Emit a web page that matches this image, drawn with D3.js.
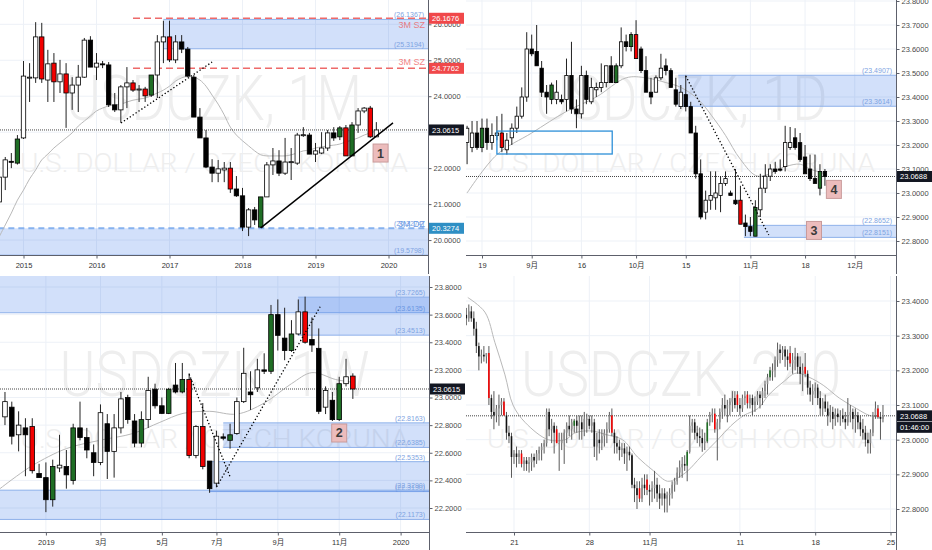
<!DOCTYPE html>
<html><head><meta charset="utf-8">
<script src="https://cdn.jsdelivr.net/npm/d3@7"></script>
<style>
html,body{margin:0;padding:0;background:#fff;}
svg{display:block;}
text{font-family:"Liberation Sans",Arial,"Noto Sans CJK SC",sans-serif;}
</style></head><body>
<svg id="chart" width="932" height="550"></svg>
<script>
// ================= DATA =================
// Monthly USDCZK (index 0 = Sep 2014) [open, high, low, close]
const monthlyStart = 0;
const monthlyOHLC = [
[21.06,21.95,20.95,21.75],[21.75,22.31,21.39,22.23],[22.19,22.42,22.00,22.17],[22.14,22.92,22.10,22.81],
[22.84,24.98,22.81,24.56],[24.51,24.92,23.84,24.53],[24.51,26.06,24.37,25.65],[25.65,26.04,24.37,24.48],
[24.45,25.29,23.84,24.90],[24.92,25.20,23.84,24.40],[24.40,25.01,24.09,24.62],[24.62,24.92,23.12,24.09],
[24.09,24.53,23.62,24.31],[24.31,24.87,23.56,24.53],[24.53,25.62,24.51,25.56],[25.56,25.67,24.81,24.81],
[24.81,25.20,24.45,24.92],[24.90,24.98,24.78,24.89],[24.87,24.95,23.70,23.76],[23.76,24.09,23.56,23.62],
[23.62,24.31,23.26,24.26],[24.26,24.81,23.67,24.37],[24.37,24.45,24.12,24.17],[24.19,24.31,23.84,24.20],
[24.20,24.26,23.84,24.01],[24.03,24.59,23.98,24.59],[24.59,25.70,23.95,25.51],[25.51,26.10,24.92,25.65],
[25.65,26.10,24.95,25.01],[25.01,25.70,24.92,25.51],[25.51,25.70,25.20,25.31],[25.31,25.37,24.53,24.56],
[24.53,24.59,23.42,23.42],[23.42,23.67,22.84,22.84],[22.84,23.06,22.00,22.03],[22.03,22.25,21.61,21.86],
[21.86,22.23,21.61,21.98],[21.95,22.17,21.61,22.00],[22.00,22.17,21.31,21.42],[21.42,21.78,21.20,21.23],
[21.23,21.45,20.25,20.36],[20.36,20.89,20.11,20.84],[20.84,20.92,20.42,20.56],[20.36,21.20,20.34,21.20],
[21.20,22.17,21.20,22.09],[22.09,22.56,21.81,22.20],[22.20,22.50,21.78,21.86],[21.86,22.84,21.81,22.17],
[22.16,22.56,21.67,22.18],[22.14,22.98,22.09,22.92],[22.92,23.14,22.87,22.93],[22.92,22.98,22.39,22.39],
[22.39,22.70,22.17,22.48],[22.42,23.00,22.39,22.56],[22.56,23.06,22.48,22.98],[22.98,23.14,22.76,22.84],
[22.87,23.17,22.78,23.12],[23.12,23.20,22.34,22.34],[22.34,23.28,22.34,23.20],[23.20,23.67,22.98,23.59],
[23.59,23.70,23.53,23.67],[23.67,23.73,22.84,22.87],[22.87,23.28,22.87,23.0615]
];
const monthlyRed = [7,9,11,22,24,28,38,57,61];
const monthlyGreen = [3,25,43,56,58];
const monthlyMA = [[0,20.09],[1,20.42],[2,20.75],[3,21.11],[4,21.39],[5,21.70],[6,21.95],[7,22.23],[8,22.39],[9,22.56],
[10,22.70],[11,22.84],[12,22.98],[13,23.17],[14,23.31],[15,23.45],[16,23.59],[17,23.67],[18,23.73],[19,23.76],[20,23.78],
[21,23.84],[22,23.89],[23,23.92],[24,23.95],[25,24.01],[26,24.09],[27,24.17],[28,24.28],[29,24.42],[30,24.51],[31,24.56],
[32,24.53],[33,24.45],[34,24.28],[35,24.03],[36,23.78],[37,23.48],[38,23.14],[39,22.92],[40,22.76],[41,22.62],[42,22.48],
[43,22.37],[44,22.34],[45,22.34],[46,22.34],[47,22.34],[48,22.37],[49,22.42],[50,22.48],[51,22.50],[52,22.56],[53,22.59],
[54,22.62],[55,22.64],[56,22.67],[57,22.73],[58,22.78],[59,22.84],[60,22.92],[61,22.98],[62,23.03]];
const monthlyTimeTicks = [[4,'2015'],[16,'2016'],[28,'2017'],[40,'2018'],[52,'2019'],[64,'2020']];
const monthlyPriceTicks = [20,21,22,23,24,25,26];

// Daily (index 0 = 19 Aug 2019)
const dailyStart = -3;
const dailyOHLC = [
[23.21,23.28,23.12,23.27],[23.19,23.30,23.17,23.25],[23.25,23.30,23.18,23.19],[23.19,23.31,23.17,23.27],
[23.27,23.31,23.18,23.21],[23.21,23.29,23.18,23.24],[23.24,23.32,23.22,23.25],[23.25,23.33,23.17,23.19],
[23.18,23.25,23.16,23.22],[23.23,23.29,23.20,23.27],[23.27,23.36,23.25,23.32],[23.32,23.44,23.31,23.40],
[23.40,23.67,23.38,23.60],[23.60,23.66,23.57,23.58],[23.59,23.70,23.53,23.53],[23.52,23.55,23.40,23.42],
[23.42,23.45,23.33,23.40],[23.39,23.46,23.37,23.45],[23.39,23.47,23.37,23.42],[23.39,23.41,23.37,23.38],
[23.39,23.56,23.34,23.49],[23.49,23.63,23.33,23.35],[23.35,23.39,23.27,23.33],[23.33,23.53,23.31,23.49],
[23.49,23.51,23.37,23.39],[23.38,23.48,23.37,23.44],[23.43,23.46,23.40,23.44],[23.44,23.54,23.42,23.46],
[23.46,23.53,23.44,23.53],[23.53,23.57,23.46,23.46],[23.46,23.54,23.46,23.53],[23.53,23.69,23.52,23.63],
[23.63,23.66,23.59,23.61],[23.61,23.67,23.59,23.66],[23.66,23.72,23.56,23.56],[23.60,23.61,23.50,23.51],
[23.51,23.57,23.42,23.42],[23.42,23.48,23.37,23.40],[23.42,23.49,23.42,23.48],[23.48,23.58,23.47,23.52],
[23.53,23.56,23.49,23.51],[23.51,23.52,23.44,23.44],[23.43,23.48,23.36,23.37],[23.36,23.45,23.35,23.42],
[23.41,23.49,23.34,23.36],[23.36,23.38,23.25,23.25],[23.25,23.28,23.06,23.08],[23.08,23.14,22.89,22.90],
[22.92,23.01,22.89,22.97],[22.97,23.09,22.93,22.99],[22.98,23.09,22.93,23.00],[22.99,23.07,22.92,23.04],
[23.04,23.09,23.03,23.06],[23.00,23.01,22.99,22.99],[22.97,23.10,22.95,22.955],[22.97,23.03,22.87,22.87],
[22.875,22.91,22.82,22.86],[22.86,22.90,22.82,22.84],[22.82,22.97,22.82,22.94],[22.93,23.08,22.90,23.02],
[23.02,23.12,23.00,23.07],[23.07,23.12,23.05,23.10],[23.10,23.13,23.08,23.09],[23.10,23.14,23.09,23.095],
[23.11,23.28,23.09,23.21],[23.19,23.275,23.18,23.21],[23.23,23.27,23.18,23.19],[23.21,23.25,23.13,23.14],
[23.15,23.20,23.09,23.08],[23.10,23.16,23.05,23.06],[23.06,23.16,23.04,23.04],[23.02,23.12,22.99,23.09],
[23.09,23.10,23.03,23.0688]
];
const dailyRed = [4,31,52];
const dailyGreen = [0,14,27,30,55,68];
const dailyMA = [[-3,23.0],[3,23.16],[10,23.25],[17,23.34],[23,23.40],[29,23.48],[33,23.48],[37,23.46],[40,23.44],
[43.5,23.39],[47,23.30],[49,23.24],[52,23.14],[55.5,23.07],[61,23.11],[64,23.12],[66,23.10],[69,23.08]];
const dailyTimeTicks = [[0,'19'],[10,'9月'],[20,'16'],[31,'10月'],[41,'15'],[54,'11月'],[65,'18'],[75,'12月']];
const dailyPriceTicks = [22.8,22.9,23.0,23.1,23.2,23.3,23.4,23.5,23.6,23.7,23.8];

// Weekly (index 0 = week of 26 Nov 2018)
const weeklyStart = 0;
const weeklyOHLC = [
[22.86,23.04,22.80,22.97],[22.93,22.97,22.66,22.72],[22.73,22.90,22.61,22.80],[22.78,22.85,22.43,22.73],
[22.79,22.85,22.45,22.47],[22.45,22.52,22.42,22.42],[22.42,22.53,22.17,22.26],[22.26,22.55,22.21,22.50],
[22.49,22.73,22.46,22.51],[22.50,22.62,22.34,22.44],[22.40,22.81,22.37,22.78],[22.78,22.97,22.69,22.71],
[22.71,22.78,22.56,22.62],[22.60,22.66,22.43,22.53],[22.53,22.95,22.51,22.89],[22.81,22.88,22.41,22.61],
[22.61,22.88,22.42,22.78],[22.78,23.04,22.74,22.99],[23.00,23.02,22.81,22.84],[22.83,22.88,22.64,22.67],
[22.67,22.90,22.64,22.84],[22.84,23.15,22.78,23.05],[23.06,23.10,22.92,22.94],[22.94,23.00,22.88,22.885],
[22.885,23.07,22.88,23.06],[23.09,23.25,23.03,23.04],[23.04,23.25,23.03,23.13],[23.13,23.175,22.56,22.58],
[22.58,22.80,22.56,22.79],[22.79,22.96,22.48,22.50],[22.54,22.54,22.31,22.34],[22.38,22.76,22.35,22.72],
[22.715,22.74,22.69,22.705],[22.69,22.81,22.63,22.73],[22.74,23.00,22.73,22.97],[22.97,23.36,22.96,23.175],
[23.04,23.19,22.91,23.02],[23.07,23.28,23.04,23.20],[23.20,23.32,23.17,23.19],[23.19,23.67,23.17,23.60],
[23.60,23.71,23.34,23.45],[23.43,23.65,23.27,23.34],[23.34,23.56,23.33,23.46],[23.46,23.71,23.45,23.62],
[23.62,23.73,23.39,23.40],[23.42,23.58,23.33,23.38],[23.356,23.50,22.88,22.90],[22.93,23.08,22.88,23.05],
[22.98,23.04,22.83,22.84],[22.84,23.15,22.83,23.10],[23.10,23.28,23.08,23.15],[23.155,23.175,22.99,23.0615]
];
const weeklyRed = [4,27,29,44,51];
const weeklyGreen = [7,10,20,24,26,33,39,42,49];
const weeklyMA = [[-1,22.33],[1.7,22.43],[4.1,22.51],[9,22.63],[13.9,22.69],[18.8,22.74],[22.7,22.82],[26.1,22.885],
[30,22.90],[34,22.88],[38,22.96],[42,23.10],[45,23.18],[48.5,23.13],[51,23.11]];
const weeklyTimeTicks = [[6,'2019'],[14,'3月'],[23,'5月'],[31,'7月'],[40,'9月'],[49,'11月'],[58,'2020']];
const weeklyPriceTicks = [22.2,22.4,22.6,22.8,23.0,23.2,23.4,23.6,23.8];

// 4-hour (index 0 = first bar of 21 Oct 2019)
const h4Start = -19;
const h4OHLC = [
[23.36,23.38,23.33,23.35],[23.35,23.39,23.34,23.37],[23.37,23.385,23.34,23.35],[23.35,23.37,23.30,23.32],
[23.32,23.34,23.25,23.27],[23.27,23.28,23.20,23.24],[23.24,23.26,23.22,23.245],[23.245,23.27,23.225,23.24],
[23.24,23.25,23.22,23.25],[23.25,23.27,23.10,23.12],[23.12,23.13,23.06,23.08],[23.08,23.14,23.03,23.07],
[23.07,23.10,23.05,23.09],[23.09,23.13,23.04,23.10],[23.10,23.12,23.07,23.11],[23.11,23.12,23.07,23.07],
[23.07,23.08,23.00,23.02],[23.02,23.04,22.99,23.01],[23.01,23.02,22.89,22.95],
[22.95,22.97,22.93,22.96],[22.96,22.98,22.92,22.95],[22.95,22.97,22.93,22.96],[22.96,22.97,22.92,22.93],
[22.93,22.95,22.91,22.94],[22.94,22.95,22.91,22.93],[22.93,22.95,22.905,22.935],[22.935,22.96,22.91,22.95],
[22.95,22.96,22.92,22.94],[22.94,22.97,22.93,22.96],[22.96,22.98,22.94,22.97],[22.97,22.99,22.94,22.98],
[22.98,23.00,22.96,22.99],[22.99,23.09,22.98,23.08],[23.08,23.09,23.01,23.03],[23.03,23.06,22.99,23.04],
[23.04,23.05,22.96,23.02],[23.03,23.04,22.99,22.99],[22.99,23.02,22.91,22.99],[22.99,23.02,22.97,23.00],
[23.00,23.03,22.93,23.02],[23.02,23.05,22.99,23.04],[23.04,23.07,23.01,23.03],[23.03,23.06,23.00,23.05],
[23.04,23.06,23.02,23.055],[23.055,23.07,23.02,23.04],[23.04,23.07,23.00,23.05],[23.05,23.07,23.00,23.03],
[23.03,23.08,23.01,23.06],[23.06,23.075,23.02,23.06],[23.06,23.07,23.03,23.04],[23.04,23.07,23.02,23.05],
[23.05,23.06,22.95,22.98],[22.98,23.02,22.94,23.00],[23.00,23.03,22.96,22.99],[22.99,23.03,22.97,23.01],
[23.01,23.03,22.98,23.02],[23.02,23.05,22.99,23.03],[23.03,23.08,23.02,23.07],[23.07,23.09,23.01,23.02],
[23.02,23.03,22.96,22.99],[22.99,23.01,22.96,22.98],[22.98,23.00,22.94,22.97],[22.97,22.99,22.95,22.975],
[22.975,22.99,22.93,22.96],[22.96,22.98,22.91,22.965],[22.965,22.98,22.94,22.955],[22.955,22.96,22.86,22.87],
[22.87,22.89,22.82,22.86],[22.86,22.88,22.80,22.84],[22.86,22.88,22.82,22.83],[22.83,22.89,22.82,22.87],
[22.87,22.90,22.84,22.86],[22.885,22.90,22.84,22.855],[22.855,22.87,22.81,22.85],[22.85,22.88,22.82,22.86],
[22.86,22.91,22.83,22.87],[22.87,22.89,22.82,22.845],[22.845,22.87,22.80,22.83],[22.83,22.86,22.81,22.845],
[22.845,22.86,22.79,22.83],[22.83,22.85,22.79,22.84],[22.84,22.86,22.81,22.845],[22.845,22.88,22.83,22.87],
[22.87,22.89,22.85,22.88],[22.88,22.92,22.87,22.905],[22.905,22.94,22.89,22.92],[22.92,22.95,22.89,22.93],
[22.93,22.955,22.91,22.925],[22.925,22.97,22.88,22.965],[22.965,23.07,22.96,23.04],[23.04,23.06,23.02,23.05],
[23.05,23.06,23.00,23.02],[23.02,23.04,22.99,23.01],[23.01,23.035,22.98,23.005],[23.005,23.03,22.965,22.99],
[22.99,23.02,22.97,22.995],[22.995,23.06,22.99,23.05],[23.05,23.08,23.04,23.07],[23.07,23.09,23.05,23.075],
[23.075,23.09,23.02,23.03],[23.03,23.06,22.94,23.05],[23.05,23.09,23.03,23.08],[23.08,23.12,23.06,23.10],
[23.10,23.13,23.07,23.09],[23.09,23.115,23.05,23.10],[23.10,23.12,23.07,23.11],[23.11,23.14,23.08,23.12],
[23.12,23.14,23.09,23.10],[23.13,23.14,23.08,23.10],[23.10,23.12,23.07,23.09],[23.09,23.13,23.08,23.12],
[23.12,23.14,23.10,23.125],[23.13,23.14,23.09,23.105],[23.105,23.13,23.09,23.12],[23.12,23.13,23.07,23.10],
[23.10,23.125,23.08,23.11],[23.11,23.14,23.10,23.13],[23.13,23.14,23.09,23.12],[23.12,23.15,23.10,23.14],
[23.14,23.17,23.12,23.16],[23.16,23.19,23.13,23.18],[23.18,23.21,23.17,23.20],[23.20,23.22,23.17,23.20],
[23.20,23.24,23.18,23.23],[23.23,23.28,23.21,23.26],[23.26,23.275,23.22,23.25],[23.25,23.27,23.23,23.26],
[23.26,23.27,23.21,23.24],[23.24,23.26,23.20,23.23],[23.25,23.27,23.21,23.22],[23.22,23.25,23.19,23.23],
[23.23,23.265,23.20,23.24],[23.24,23.25,23.19,23.21],[23.21,23.24,23.16,23.19],[23.19,23.22,23.14,23.20],
[23.21,23.25,23.18,23.19],[23.19,23.20,23.13,23.15],[23.15,23.17,23.11,23.13],[23.13,23.16,23.10,23.14],
[23.14,23.165,23.12,23.15],[23.15,23.16,23.10,23.12],[23.12,23.14,23.07,23.09],[23.09,23.12,23.07,23.11],
[23.11,23.13,23.08,23.09],[23.09,23.11,23.04,23.07],[23.07,23.10,23.05,23.08],[23.08,23.095,23.03,23.06],
[23.06,23.09,23.04,23.075],[23.075,23.09,23.05,23.065],[23.065,23.085,23.04,23.07],[23.07,23.09,23.05,23.06],
[23.06,23.08,23.03,23.05],[23.05,23.12,23.04,23.07],[23.07,23.10,23.05,23.08],[23.08,23.09,23.03,23.06],
[23.06,23.09,23.02,23.07],[23.07,23.08,23.03,23.05],[23.05,23.07,23.01,23.03],[23.03,23.06,23.00,23.02],
[23.02,23.04,22.98,23.00],[23.00,23.02,22.96,22.99],[22.99,23.03,22.96,23.02],[23.02,23.08,23.01,23.07],
[23.07,23.11,23.06,23.09],[23.09,23.10,23.06,23.065],[23.065,23.08,23.00,23.06],[23.06,23.10,23.05,23.0688]
];
const h4Red = [-10,-4,3,17,39,50,53,80,89,93,110,116,145];
const h4Green = [24,69,77,102];
const h4MA = [[-18.4,23.41],[-11.6,23.368],[-7.6,23.28],[-3.6,23.187],[-0.4,23.10],[4.4,23.05],[13.6,23.0],[20.4,23.0],
[24.4,23.02],[31.2,23.025],[36.4,23.015],[43.2,23.0],[49.2,22.95],[55.6,22.91],[61.2,22.88],[65.2,22.89],[69.2,22.91],
[74.4,22.95],[81.2,23.0],[86.4,23.04],[91.6,23.07],[97.2,23.09],[101.6,23.13],[107.2,23.166],[112.4,23.192],
[117.6,23.18],[123.2,23.157],[129.6,23.12],[136.4,23.09],[141.6,23.07],[146.4,23.065]];
const h4TimeTicks = [[0,'21'],[30,'28'],[54,'11月'],[90,'11'],[120,'18'],[150,'25']];
const h4PriceTicks = [22.8,22.9,23.0,23.1,23.2,23.3,23.4];

// ================= DRAWING =================
const svg = d3.select('#chart');
const defs = svg.append('defs');
const fmt4 = d3.format('.4f');
const ZONE_FILL = 'rgba(30,100,230,0.2)';
const ZONE_LINE = '#8eb1ea';
const ZONE_TEXT = '#7ea3e2';
const SZ_RED = '#ef5b5b';
let clipN = 0;

function drawPanel(c){
  const x = d3.scaleLinear().domain(c.xCal).range(c.xPx);
  const y = d3.scaleLinear().domain(c.yCal).range(c.yPx);
  const id = 'clip' + (clipN++);
  defs.append('clipPath').attr('id', id).append('rect')
    .attr('x', c.left).attr('y', c.top).attr('width', c.right - c.left).attr('height', c.bottom - c.top);
  const root = svg.append('g');
  const g = root.append('g').attr('clip-path', `url(#${id})`);

  // grid
  g.append('g').selectAll('line').data(c.priceTicks).join('line')
    .attr('x1', c.left).attr('x2', c.right).attr('y1', d => y(d)).attr('y2', d => y(d))
    .attr('stroke', '#edf1f7');
  g.append('g').selectAll('line').data(c.timeTicks).join('line')
    .attr('x1', d => x(d[0])).attr('x2', d => x(d[0])).attr('y1', c.top).attr('y2', c.bottom)
    .attr('stroke', '#edf1f7');

  // watermark
  const cx = (c.left + c.right) / 2;
  g.append('text').attr('x', cx).attr('y', c.top + 120).attr('text-anchor', 'middle')
    .attr('font-size', 63).attr('font-weight', 300).style('font-family', 'Roboto, "Liberation Sans", sans-serif')
    .attr('textLength', c.wmWidth).attr('lengthAdjust', 'spacingAndGlyphs')
    .attr('fill', '#eeeeee').text(c.title);
  g.append('text').attr('x', cx).attr('y', c.top + 172).attr('text-anchor', 'middle')
    .attr('font-size', 26).attr('font-weight', 300).style('font-family', 'Roboto, "Liberation Sans", sans-serif')
    .attr('textLength', 388).attr('lengthAdjust', 'spacingAndGlyphs')
    .attr('fill', '#eeeeee').text('U.S. DOLLAR / CZECH KORUNA');

  // zones
  (c.zones || []).forEach(z => {
    const x0 = z.from == null ? c.left : x(z.from);
    g.append('rect').attr('x', x0).attr('y', y(z.top)).attr('width', c.right - x0)
      .attr('height', y(z.bottom) - y(z.top)).attr('fill', ZONE_FILL);
    const tl = g.append('line').attr('x1', x0).attr('x2', c.right).attr('y1', y(z.top)).attr('y2', y(z.top))
      .attr('stroke', ZONE_LINE).attr('stroke-width', 1);
    if (z.dashedTop) tl.attr('stroke', '#86b2ef').attr('stroke-width', 2).attr('stroke-dasharray', '6,4');
    g.append('line').attr('x1', x0).attr('x2', c.right).attr('y1', y(z.bottom)).attr('y2', y(z.bottom))
      .attr('stroke', ZONE_LINE).attr('stroke-width', 1);
    if (z.topLabel !== false)
      g.append('text').attr('x', c.right - 4).attr('y', y(z.top) - 2).attr('text-anchor', 'end')
        .attr('font-size', 7).attr('fill', ZONE_TEXT).text('(' + fmt4(z.top) + ')');
    g.append('text').attr('x', c.right - 4).attr('y', y(z.bottom) - 2).attr('text-anchor', 'end')
      .attr('font-size', 7).attr('fill', ZONE_TEXT).text('(' + fmt4(z.bottom) + ')');
    if (z.name)
      g.append('text').attr('x', c.right - 3).attr('y', y(z.top) + 9).attr('text-anchor', 'end')
        .attr('font-size', 9).attr('fill', SZ_RED).attr('opacity', 0.75).text(z.name);
    if (z.lineName)
      g.append('text').attr('x', c.right - 3).attr('y', y(z.top) - 1.5).attr('text-anchor', 'end')
        .attr('font-size', 9).attr('fill', '#6f9de6').text(z.lineName);
  });

  // MA
  g.append('path').datum(c.ma)
    .attr('d', d3.line().x(d => x(d[0])).y(d => y(d[1])).curve(d3.curveCatmullRom))
    .attr('fill', 'none').attr('stroke', '#b9b9b9').attr('stroke-width', 1);

  // current price dotted line
  g.append('line').attr('x1', c.left).attr('x2', c.right).attr('y1', y(c.last)).attr('y2', y(c.last))
    .attr('stroke', '#444').attr('stroke-width', 1).attr('stroke-dasharray', '1,1');

  // red dashed levels
  (c.redLines || []).forEach(r => {
    g.append('line').attr('x1', x(r.from)).attr('x2', c.right).attr('y1', y(r.v)).attr('y2', y(r.v))
      .attr('stroke', '#ee6a6a').attr('stroke-width', 1.6).attr('stroke-dasharray', '7,4');
    if (r.label)
      g.append('text').attr('x', c.right - 3).attr('y', y(r.v) - 3).attr('text-anchor', 'end')
        .attr('font-size', 9).attr('fill', SZ_RED).attr('opacity', 0.75).text(r.label);
  });

  // candles
  const data = c.ohlc.map((d, k) => ({i: c.start + k, o: d[0], h: d[1], l: d[2], c: d[3]}));
  const red = new Set(c.red), green = new Set(c.green);
  const cg = g.append('g');
  cg.selectAll('line').data(data).join('line')
    .attr('x1', d => x(d.i)).attr('x2', d => x(d.i)).attr('y1', d => y(d.h)).attr('y2', d => y(d.l))
    .attr('stroke', c.wick).attr('stroke-width', 1);
  cg.selectAll('rect').data(data).join('rect')
    .attr('x', d => x(d.i) - c.bw / 2).attr('width', c.bw)
    .attr('y', d => y(Math.max(d.o, d.c)))
    .attr('height', d => Math.max(1, Math.abs(y(d.o) - y(d.c))))
    .attr('fill', d => red.has(d.i) ? '#f20000' : green.has(d.i) ? '#1f6e25' : (d.c >= d.o ? c.upFill : c.downFill))
    .attr('stroke', c.bodyStroke).attr('stroke-width', c.bodyStrokeW);

  // outlined rectangle
  (c.outlines || []).forEach(o => {
    g.append('rect').attr('x', x(o.from)).attr('y', y(o.top)).attr('width', x(o.to) - x(o.from))
      .attr('height', y(o.bottom) - y(o.top)).attr('fill', 'none').attr('stroke', '#2d8fd8').attr('stroke-width', 1.3);
  });

  // trend lines
  (c.trends || []).forEach(t => {
    const ln = g.append('line').attr('x1', x(t.p1[0])).attr('y1', y(t.p1[1]))
      .attr('x2', x(t.p2[0])).attr('y2', y(t.p2[1])).attr('stroke', '#000');
    if (t.dotted) ln.attr('stroke-width', 1.3).attr('stroke-dasharray', '1.3,2.2');
    else ln.attr('stroke-width', 1.4);
  });

  // numbered boxes
  (c.boxes || []).forEach(b => {
    const bx = x(b.i), by = y(b.v);
    g.append('rect').attr('x', bx - 7.5).attr('y', by - 9).attr('width', 15).attr('height', 18)
      .attr('fill', '#ecbcbc').attr('stroke', '#c99b9b').attr('stroke-width', 1);
    g.append('text').attr('x', bx).attr('y', by + 4.5).attr('text-anchor', 'middle')
      .attr('font-size', 12.5).attr('font-weight', 'bold').attr('fill', '#3a3a3a').text(b.label);
  });

  // axes
  root.append('line').attr('x1', c.right + 0.5).attr('x2', c.right + 0.5).attr('y1', c.top).attr('y2', c.axisEnd)
    .attr('stroke', '#5d606b');
  root.append('line').attr('x1', c.left).attr('x2', c.right).attr('y1', c.bottom + 0.5).attr('y2', c.bottom + 0.5)
    .attr('stroke', '#5d606b');

  // tick labels that would sit under a price tag are hidden, as the platform does
  const tagYs = (c.tags || []).map(t => y(t.v) + (t.offset || 0));
  const shownTicks = c.priceTicks.filter(v => tagYs.every(ty => Math.abs(y(v) - ty) > 5));
  const ya = root.append('g').attr('transform', `translate(${c.right + 0.5},0)`)
    .call(d3.axisRight(y).tickValues(shownTicks).tickFormat(fmt4).tickSize(3).tickPadding(2));
  ya.select('.domain').remove();
  ya.attr('font-size', 7.5).attr('font-family', '"Liberation Sans", Arial, sans-serif');
  ya.selectAll('line').attr('stroke', '#5d606b');
  ya.selectAll('text').attr('fill', '#4a4a4a');

  const xa = root.append('g').attr('transform', `translate(0,${c.bottom + 0.5})`)
    .call(d3.axisBottom(x).tickValues(c.timeTicks.map(d => d[0]))
      .tickFormat((d, k) => c.timeTicks[k][1]).tickSize(3).tickPadding(4));
  xa.select('.domain').remove();
  xa.attr('font-size', 7.5).attr('font-family', '"Liberation Sans", Arial, "Noto Sans CJK SC", sans-serif');
  xa.selectAll('line').attr('stroke', '#5d606b');
  xa.selectAll('text').attr('fill', '#333');

  // price tags on the axis
  (c.tags || []).forEach(t => {
    const ty = y(t.v) + (t.offset || 0);
    root.append('rect').attr('x', c.right + 1).attr('y', ty - 5.5).attr('width', 35).attr('height', 11)
      .attr('fill', t.fill);
    root.append('text').attr('x', c.right + 4).attr('y', ty + 2.7).attr('font-size', 7.5)
      .attr('fill', '#fff').text(t.text || fmt4(t.v));
  });
}

// ---------- panels ----------
drawPanel({
  title: 'USDCZK, 1M', wmWidth: 296,
  left: 0, right: 428, top: 0, bottom: 255, axisEnd: 274,
  xCal: [4, 64], xPx: [23.5, 388.5], yCal: [26, 20], yPx: [24.3, 240.06],
  ohlc: monthlyOHLC, start: monthlyStart, red: monthlyRed, green: monthlyGreen, ma: monthlyMA,
  bw: 4.4, wick: '#222', upFill: '#fff', downFill: '#000', bodyStroke: '#000', bodyStrokeW: 0.8,
  priceTicks: monthlyPriceTicks, timeTicks: monthlyTimeTicks, last: 23.0615,
  zones: [
    {from: 27, top: 26.1367, bottom: 25.3194, name: '3M SZ'},
    {from: -10, top: 20.3274, bottom: 19.5798, dashedTop: true, lineName: '3M DZ'}
  ],
  redLines: [{v: 26.1676, from: 22}, {v: 24.7762, from: 22, label: '3M SZ'}],
  trends: [
    {p1: [20.03, 23.255], p2: [35.0, 24.95], dotted: true},
    {p1: [43, 20.34], p2: [64.74, 23.26]}
  ],
  boxes: [{i: 62.7, v: 22.42, label: '1'}],
  tags: [{v: 26.1676, fill: '#f0484a'}, {v: 24.7762, fill: '#f0484a'}, {v: 23.0615, fill: '#131722'}, {v: 20.3274, fill: '#2f8fc4'}]
});

drawPanel({
  title: 'USDCZK, 1D', wmWidth: 293,
  left: 466, right: 896, top: 0, bottom: 255, axisEnd: 274,
  xCal: [0, 75], xPx: [482, 854.75], yCal: [23.8, 22.8], yPx: [1, 241],
  ohlc: dailyOHLC, start: dailyStart, red: dailyRed, green: dailyGreen, ma: dailyMA,
  bw: 3.4, wick: '#222', upFill: '#fff', downFill: '#000', bodyStroke: '#000', bodyStrokeW: 0.8,
  priceTicks: dailyPriceTicks, timeTicks: dailyTimeTicks, last: 23.0688,
  zones: [
    {from: 39.5, top: 23.4907, bottom: 23.3614},
    {from: 52.7, top: 22.8652, bottom: 22.8151}
  ],
  outlines: [{from: 3, to: 26.2, top: 23.258, bottom: 23.1625}],
  trends: [{p1: [41, 23.4875], p2: [57.7, 22.825], dotted: true}],
  boxes: [{i: 66.8, v: 22.844, label: '3'}, {i: 70.8, v: 23.015, label: '4'}],
  tags: [{v: 23.0688, fill: '#131722'}]
});

drawPanel({
  title: 'USDCZK, 1W', wmWidth: 310,
  left: 0, right: 429, top: 276, bottom: 532, axisEnd: 550,
  xCal: [6, 58], xPx: [45.9, 400.6], yCal: [23.8, 22.2], yPx: [287, 508],
  ohlc: weeklyOHLC, start: weeklyStart, red: weeklyRed, green: weeklyGreen, ma: weeklyMA,
  bw: 4.6, wick: '#222', upFill: '#fff', downFill: '#000', bodyStroke: '#000', bodyStrokeW: 0.8,
  priceTicks: weeklyPriceTicks, timeTicks: weeklyTimeTicks, last: 23.0615,
  zones: [
    {from: null, top: 23.93, bottom: 23.6135, topLabel: false},
    {from: 43, top: 23.7265, bottom: 23.4513},
    {from: 32, top: 22.8163, bottom: 22.6385},
    {from: 30, top: 22.5353, bottom: 22.3190},
    {from: null, top: 22.3290, bottom: 22.1173}
  ],
  trends: [
    {p1: [27, 23.168], p2: [33, 22.426], dotted: true},
    {p1: [31.04, 22.354], p2: [46.2, 23.657], dotted: true}
  ],
  boxes: [{i: 49, v: 22.743, label: '2'}],
  tags: [{v: 23.0615, fill: '#131722'}]
});

drawPanel({
  title: 'USDCZK, 240', wmWidth: 320,
  left: 466, right: 896, top: 276, bottom: 532, axisEnd: 550,
  xCal: [0, 150], xPx: [514, 890.5], yCal: [23.4, 22.8], yPx: [301, 509],
  ohlc: h4OHLC, start: h4Start, red: h4Red, green: h4Green, ma: h4MA,
  bw: 1.6, wick: '#5a5a5a', upFill: '#8c8c8c', downFill: '#111', bodyStroke: 'none', bodyStrokeW: 0,
  priceTicks: h4PriceTicks, timeTicks: h4TimeTicks, last: 23.0688,
  tags: [{v: 23.0688, fill: '#131722'}, {v: 23.0688, fill: '#131722', text: '01:46:00', offset: 11.5}]
});
</script>
</body></html>
